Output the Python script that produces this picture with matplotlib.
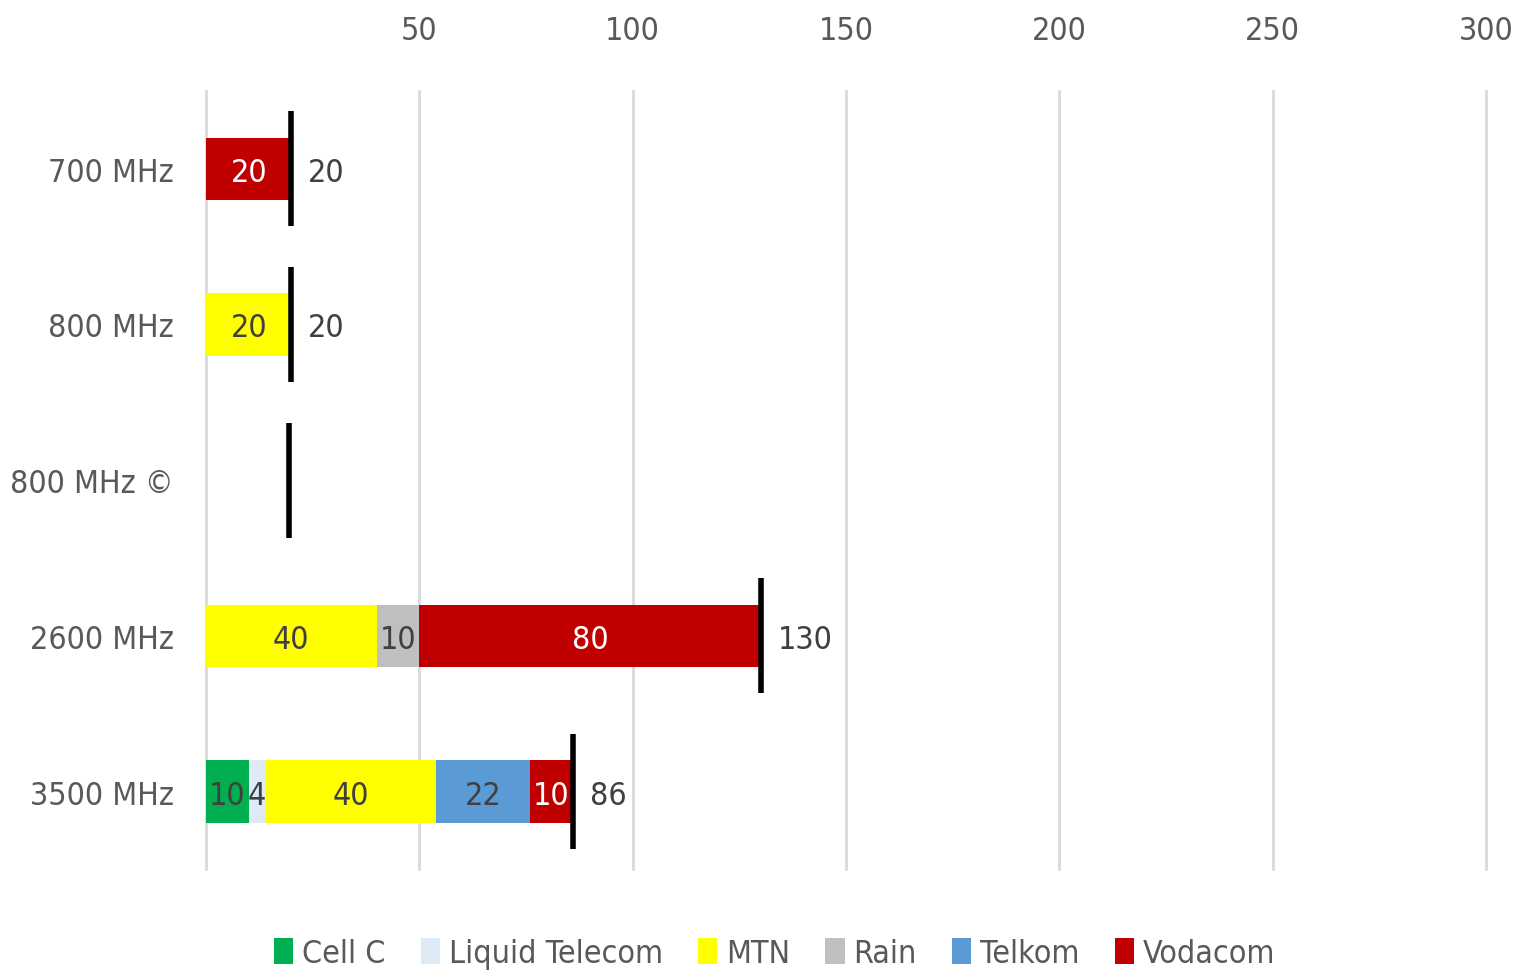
import numpy as np
import matplotlib
matplotlib.use("Agg")
import matplotlib.pyplot as plt
from matplotlib.patches import Patch

# Data
bands = ['700 MHz', '800 MHz', '800 MHz ©', '2600 MHz', '3500 MHz']
operators = ['Cell C', 'Liquid Telecom', 'MTN', 'Rain', 'Telkom', 'Vodacom']
cell_c = [0, 0, 0, 0, 10]
liquid = [0, 0, 0, 0, 4]
mtn = [0, 20, 0, 40, 40]
rain = [0, 0, 0, 10, 0]
telkom = [0, 0, 0, 0, 22]
vodacom = [20, 0, 0, 80, 10]
totals = [20, 20, None, 130, 86]
marker_x = [20, 20, 19.5, 130, 86]
xticks = [0, 50, 100, 150, 200, 250, 300]

colours = ['#00B050', '#DEEBF7', '#FFFF00', '#BFBFBF', '#5B9BD5', '#C00000']
label_colours = ['#404040', '#404040', '#404040', '#404040', '#404040', 'white']

plt.rcParams['font.family'] = ['DejaVu Sans']
plt.rcParams['font.stretch'] = 'condensed'
fontsize = 23

fig = plt.figure(figsize=(15.16, 9.78), dpi=100)
ax = fig.add_axes([0.1359, 0.110, 0.8443, 0.796])

y = np.arange(len(bands))
series = [cell_c, liquid, mtn, rain, telkom, vodacom]
left = np.zeros(len(bands))
for vals, col, lcol in zip(series, colours, label_colours):
    vals = np.array(vals, dtype=float)
    ax.barh(y, vals, left=left, height=0.4, color=col, zorder=2)
    for i, v in enumerate(vals):
        if v > 0:
            ax.text(left[i] + v / 2, y[i], f'{v:g}', ha='center',
                    va='center_baseline', color=lcol, fontsize=fontsize,
                    zorder=4)
    left += vals

# Total markers
for i, mx in enumerate(marker_x):
    ax.plot([mx, mx], [y[i] - 0.37, y[i] + 0.37], color='black', lw=4,
            solid_capstyle='butt', zorder=3)
    if totals[i] is not None:
        ax.annotate(f'{totals[i]}', (mx, y[i]), xytext=(12, 0),
                    textcoords='offset points', ha='left',
                    va='center_baseline', color='#404040', fontsize=fontsize)

ax.set_xlim(0, 300)
ax.set_ylim(len(bands) - 0.5, -0.5)
ax.set_xticks(xticks)
ax.set_xticklabels([''] + [str(t) for t in xticks[1:]])
ax.xaxis.tick_top()
ax.set_yticks(y)
ax.set_yticklabels(bands)
ax.tick_params(axis='both', length=0, labelsize=fontsize, colors='#595959')
ax.tick_params(axis='x', pad=32)
ax.tick_params(axis='y', pad=23)
ax.grid(axis='x', color='#D9D9D9', lw=2, zorder=0)
for gl in ax.get_xgridlines():
    gl.set_clip_on(False)
for s in ax.spines.values():
    s.set_visible(False)

handles = [Patch(facecolor=c, edgecolor='none') for c in colours]
fig.legend(handles, operators, loc='center', ncol=6, frameon=False,
           fontsize=fontsize, bbox_to_anchor=(0.511, 0.024), handlelength=0.6,
           handleheight=0.85, handletextpad=0.28, columnspacing=1.1,
           labelcolor='#595959')

plt.savefig('out.png', dpi=100)
